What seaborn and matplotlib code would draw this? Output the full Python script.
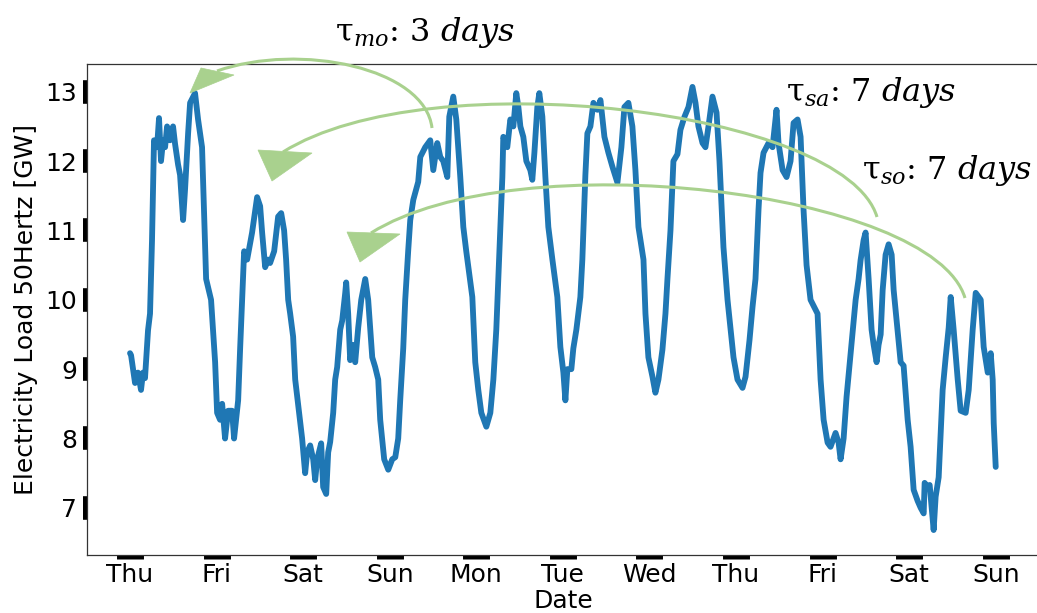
import matplotlib
matplotlib.use("Agg")
import matplotlib.pyplot as plt
from matplotlib.patches import PathPatch, Polygon
from matplotlib.path import Path
from matplotlib.transforms import Affine2D
import numpy as np
import pandas as pd
import seaborn as sns

# ---- data ----
days = [0.000, 0.012, 0.058, 0.092, 0.127, 0.150, 0.173, 0.208, 0.231, 0.254,
        0.277, 0.312, 0.335, 0.358, 0.382, 0.405, 0.428, 0.462, 0.497, 0.520,
        0.555, 0.578, 0.613, 0.636, 0.671, 0.694, 0.751, 0.786, 0.832, 0.879,
        0.936, 0.983, 1.006, 1.040, 1.064, 1.098, 1.133, 1.179, 1.202, 1.237,
        1.249, 1.272, 1.295, 1.318, 1.353, 1.410, 1.468, 1.503, 1.526, 1.561,
        1.595, 1.618, 1.665, 1.711, 1.746, 1.780, 1.803, 1.827, 1.850, 1.884,
        1.908, 1.988, 2.023, 2.046, 2.081, 2.116, 2.139, 2.162, 2.208, 2.231,
        2.266, 2.289, 2.312, 2.347, 2.370, 2.393, 2.428, 2.451, 2.486, 2.497,
        2.520, 2.543, 2.578, 2.601, 2.636, 2.671, 2.717, 2.751, 2.798, 2.832,
        2.867, 2.890, 2.936, 2.983, 3.029, 3.064, 3.098, 3.121, 3.156, 3.179,
        3.214, 3.237, 3.272, 3.329, 3.353, 3.410, 3.468, 3.503, 3.549, 3.584,
        3.618, 3.665, 3.688, 3.734, 3.769, 3.815, 3.850, 3.884, 3.954, 3.988,
        4.023, 4.058, 4.116, 4.162, 4.197, 4.231, 4.254, 4.277, 4.301, 4.312,
        4.358, 4.393, 4.428, 4.462, 4.486, 4.509, 4.543, 4.578, 4.624, 4.647,
        4.671, 4.705, 4.728, 4.763, 4.798, 4.832, 4.879, 4.936, 4.971, 5.006,
        5.029, 5.052, 5.098, 5.121, 5.156, 5.202, 5.225, 5.260, 5.283, 5.318,
        5.353, 5.399, 5.434, 5.480, 5.526, 5.572, 5.630, 5.676, 5.711, 5.757,
        5.803, 5.838, 5.873, 5.931, 5.954, 5.988, 6.035, 6.069, 6.104, 6.150,
        6.185, 6.208, 6.243, 6.277, 6.324, 6.358, 6.405, 6.451, 6.497, 6.532,
        6.566, 6.613, 6.647, 6.682, 6.728, 6.775, 6.809, 6.855, 6.902, 6.971,
        7.017, 7.075, 7.110, 7.156, 7.191, 7.225, 7.260, 7.283, 7.318, 7.376,
        7.422, 7.468, 7.491, 7.538, 7.584, 7.630, 7.665, 7.711, 7.746, 7.780,
        7.815, 7.861, 7.942, 7.977, 8.012, 8.058, 8.092, 8.150, 8.185, 8.208,
        8.243, 8.277, 8.324, 8.382, 8.416, 8.439, 8.474, 8.497, 8.532, 8.566,
        8.590, 8.624, 8.647, 8.671, 8.694, 8.728, 8.763, 8.798, 8.821, 8.902,
        8.936, 8.983, 9.017, 9.052, 9.098, 9.133, 9.168, 9.179, 9.214, 9.237,
        9.260, 9.283, 9.306, 9.341, 9.387, 9.422, 9.457, 9.480, 9.514, 9.561,
        9.595, 9.653, 9.688, 9.734, 9.769, 9.827, 9.861, 9.908, 9.942, 9.965,
        9.977, 10.000]

load_gw = [9.23, 9.20, 8.80, 8.95, 8.70, 8.95, 8.87, 9.56, 9.80, 10.86,
           12.30, 12.20, 12.62, 12.00, 12.30, 12.20, 12.50, 12.30, 12.50, 12.25,
           11.95, 11.80, 11.15, 11.60, 12.40, 12.84, 12.98, 12.60, 12.20, 10.30,
           10.00, 9.10, 8.37, 8.27, 8.50, 8.00, 8.40, 8.40, 8.00, 8.40,
           8.55, 9.30, 10.00, 10.70, 10.58, 10.97, 11.48, 11.35, 10.97, 10.47,
           10.58, 10.53, 10.70, 11.20, 11.25, 11.00, 10.58, 10.00, 9.80, 9.47,
           8.85, 8.00, 7.50, 7.80, 7.90, 7.70, 7.40, 7.70, 7.93, 7.30,
           7.20, 7.80, 7.95, 8.37, 8.85, 9.03, 9.57, 9.70, 10.10, 10.25,
           9.80, 9.13, 9.35, 9.10, 9.60, 10.00, 10.30, 10.00, 9.17, 9.03,
           8.85, 8.27, 7.70, 7.55, 7.70, 7.73, 8.00, 8.55, 9.30, 10.00,
           10.72, 11.15, 11.44, 11.70, 12.06, 12.20, 12.30, 11.87, 12.26, 12.06,
           12.00, 11.77, 12.64, 12.93, 12.60, 11.77, 11.05, 10.70, 10.04, 9.10,
           8.70, 8.37, 8.17, 8.37, 8.85, 9.57, 10.30, 11.00, 11.77, 12.35,
           12.20, 12.60, 12.50, 12.98, 12.78, 12.50, 12.35, 12.00, 11.87, 11.73,
           12.12, 12.78, 12.98, 12.64, 11.77, 11.05, 10.58, 10.04, 9.32, 8.95,
           8.55, 9.00, 9.00, 9.30, 9.57, 10.04, 10.58, 11.80, 12.40, 12.50,
           12.84, 12.74, 12.88, 12.35, 12.12, 11.92, 11.69, 12.20, 12.78, 12.84,
           12.50, 11.87, 11.05, 10.58, 9.80, 9.17, 8.89, 8.66, 8.85, 9.28,
           9.80, 10.30, 11.00, 12.00, 12.10, 12.45, 12.64, 12.78, 13.07, 12.84,
           12.50, 12.26, 12.20, 12.50, 12.93, 12.70, 12.00, 10.76, 10.00, 9.17,
           8.85, 8.73, 8.89, 9.42, 9.90, 10.30, 11.30, 11.83, 12.12, 12.26,
           12.20, 12.74, 12.26, 11.87, 11.77, 12.00, 12.55, 12.60, 12.35, 11.30,
           10.50, 10.00, 9.80, 8.85, 8.27, 7.94, 7.88, 8.08, 7.94, 7.70,
           8.00, 8.60, 9.23, 10.00, 10.30, 10.57, 10.86, 10.97, 10.30, 9.57,
           9.35, 9.10, 9.35, 9.50, 10.14, 10.65, 10.80, 10.65, 10.14, 9.10,
           9.05, 8.27, 7.88, 7.26, 7.10, 7.00, 6.92, 7.36, 7.30, 7.33,
           7.00, 6.68, 7.16, 7.44, 8.70, 9.17, 9.60, 10.04, 9.57, 8.85,
           8.40, 8.37, 8.70, 9.57, 10.10, 10.00, 9.32, 8.95, 9.23, 8.85,
           8.22, 7.59]

day_labels = ["Thu", "Fri", "Sat", "Sun", "Mon", "Tue", "Wed", "Thu", "Fri", "Sat", "Sun"]
y_ticks = [7, 8, 9, 10, 11, 12, 13]
lag_names = ["mo", "sa", "so"]
lag_days = [3, 7, 7]

# ---- style ----
sns.set_style("white")
plt.rcParams["font.family"] = ["DejaVu Sans"]
plt.rcParams["mathtext.fontset"] = "dejavuserif"

W, H = 1037, 613
fig = plt.figure(figsize=(W / 100, H / 100), dpi=100)
ax = fig.add_axes([87 / W, 58 / H, 952 / W, 491 / H])

df = pd.DataFrame({"Date": days, "Load": load_gw})
sns.lineplot(data=df, x="Date", y="Load", ax=ax, color="#1f77b4", linewidth=4.2, zorder=2)

ax.set_xlim(-0.497, 10.50)
ax.set_ylim(6.32, 13.40)
ax.set_xticks(range(len(day_labels)))
ax.set_xticklabels(day_labels)
ax.set_yticks(y_ticks)
ax.set_yticklabels([str(v) for v in y_ticks])

ax.tick_params(axis="x", bottom=True, length=2.9, width=19.4, direction="out",
               pad=3, labelsize=18, color="black", labelcolor="black")
ax.tick_params(axis="y", left=True, length=3.2, width=17, direction="out",
               pad=4, labelsize=18, color="black", labelcolor="black")
for side in ["left", "bottom", "top"]:
    ax.spines[side].set_color("#333333")
    ax.spines[side].set_linewidth(0.9)
ax.spines["right"].set_visible(False)

ax.set_xlabel("Date", fontsize=18, labelpad=1, color="black")
ax.set_ylabel("Electricity Load 50Hertz [GW]", fontsize=18, labelpad=5, color="black")

# ---- lag annotations, laid out in figure pixels (y measured from top) ----
px = Affine2D().scale(1 / W, -1 / H).translate(0, 1) + fig.transFigure
green = "#a9d18e"
curves = [
    [(432, 128), (425, 68), (300, 42), (217, 71)],
    [(877, 217), (845, 110), (430, 60), (283, 152)],
    [(965, 298), (933, 191), (518, 141), (371, 233)],
]
heads = [
    [(190, 93), (201, 68), (234, 75)],
    [(272, 181), (258, 150), (312, 153)],
    [(360, 262), (347, 232), (400, 234)],
]
for pts in curves:
    path = Path(pts, [Path.MOVETO, Path.CURVE4, Path.CURVE4, Path.CURVE4])
    fig.add_artist(PathPatch(path, transform=px, facecolor="none", edgecolor=green,
                             lw=2.2, zorder=5))
for tri in heads:
    fig.add_artist(Polygon(tri, closed=True, transform=px, facecolor=green,
                           edgecolor=green, lw=0.5, zorder=5))

label_pos = [(425, 32), (871, 93), (947, 170)]
for (lx, ly), name, nd in zip(label_pos, lag_names, lag_days):
    fig.text(lx / W, 1 - ly / H, f"τ$_{{{name}}}$: {nd} $days$", ha="center", va="center",
             fontsize=23, family="DejaVu Serif", color="black", zorder=6)

fig.savefig("out.png", dpi=100)
